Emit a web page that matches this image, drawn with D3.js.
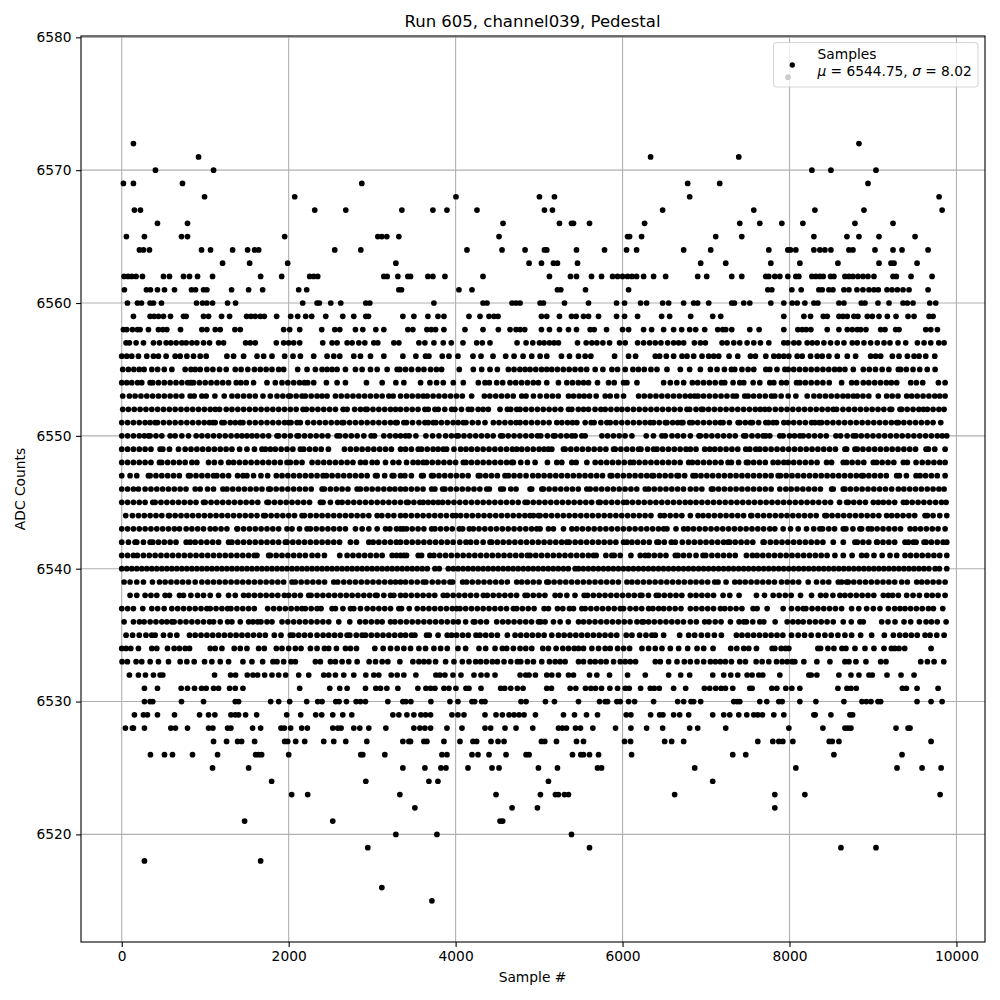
<!DOCTYPE html>
<html><head><meta charset="utf-8"><script src="https://cdnjs.cloudflare.com/ajax/libs/d3/7.8.5/d3.min.js"></script>
<style>html,body{margin:0;background:#fff}svg{display:block}text{font-family:"DejaVu Sans";fill:#000}</style></head><body><div id="c"></div>
<script>
const r6577=[7982];
const r6572=[140,8832];
const r6571=[920,6336,7392];
const r6570=[404,1100,8268,8496,9036];
const r6569=[20,140,728,2876,6780,7164,8940];
const r6568=[992,2072,4004,5004,5184,6804,9792];
const r6567=[152,224,2312,2684,3356,3728,3896,4256,5064,5160,6480,7572,8304,8892,9828];
const r6566=[428,788,4568,5244,5388,5412,5604,6264,7404,7644,7908,8160,8784,9240];
const r6565=[56,272,716,788,1952,3068,3116,3176,3320,4520,6060,6084,6228,7116,7428,8292,8688,8832,9072,9504];
const r6564=[212,260,332,956,1064,1328,1508,1592,1640,2552,2864,4136,4556,4832,5064,5092,5448,5784,6048,6168,6732,7056,7752,7980,8012,8076,8292,8364,8424,8496,8712,8760,9024,9240,9348,9660];
const r6563=[1208,1532,1988,3284,4880,5028,5172,5220,5460,6936,7236,7776,8124,8580,9072,9216,9252,9528];
const r6562=[28,76,120,172,248,500,572,740,812,908,1088,1664,1916,2252,2300,2348,3140,3180,3308,3428,3460,3668,3728,3872,4328,5124,5376,5448,5628,5748,5880,5940,6000,6060,6112,6168,6252,6372,6516,6900,7008,7308,7428,7716,7752,7824,7884,7980,8076,8112,8268,8316,8364,8404,8492,8532,8664,8712,8760,8820,8880,8940,9012,9240,9280,9456,9708];
const r6561=[32,296,344,428,512,632,836,884,980,1020,1316,1520,1688,2120,2216,3320,3352,4040,4196,5220,5260,5556,6072,7740,7788,8028,8140,8352,8392,8472,8520,8652,8712,8808,8880,8952,9012,9064,9168,9228,9292,9360,9432,9660];
const r6560=[68,188,236,340,380,476,896,968,1020,1088,1268,1364,2168,2340,2368,2504,2624,2924,2972,3740,4328,4376,4676,4724,4772,5012,5052,5304,5592,5928,6024,6216,6288,6480,6552,6732,6852,6900,7032,7308,7340,7452,7524,7776,7932,8032,8092,8184,8292,8340,8592,8652,8860,8904,9060,9192,9360,9412,9480,9680,9752];
const r6559=[140,340,388,440,500,584,740,772,980,1040,1196,1292,1496,1548,1600,1660,1708,1856,2024,2108,2204,2276,2444,2648,2780,2924,2956,3368,3500,3668,3788,3860,4160,4292,4400,4460,4508,5028,5092,5244,5388,5444,5532,5592,5712,5928,6024,6180,6468,6564,6816,7080,7176,7932,8172,8252,8404,8452,8592,8640,8692,8772,8820,8932,8992,9072,9172,9276,9420,9492,9672,9720];
const r6558=[20,60,128,188,220,320,440,492,540,704,960,1020,1120,1180,1356,1420,1940,2012,2132,2396,2552,2612,2800,2888,3044,3140,3428,3488,3656,3708,3760,3860,4112,4328,4512,4652,4724,4772,4828,5028,5124,5244,5352,5448,5612,5660,5808,6000,6072,6252,6348,6492,6612,6708,6804,6876,6984,7140,7200,7236,7308,7524,7636,7932,8100,8152,8200,8256,8452,8592,8692,8752,8812,8852,8916,9092,9144,9272,9312,9632,9692,9772];
const r6557=[52,92,172,260,380,452,532,588,652,720,772,840,900,980,1052,1160,1220,1484,1540,1600,1852,1940,2000,2060,2132,2408,2520,2580,2700,2760,2840,2912,3020,3068,3260,3320,3560,3632,3740,3852,3948,4088,4252,4320,4412,4736,4844,4924,5004,5060,5124,5180,5232,5460,5564,5632,5692,5764,5844,5964,6032,6180,6252,6324,6392,6460,6540,6612,6672,6732,6860,6932,6992,7192,7252,7332,7404,7492,7572,7652,7752,7932,7980,8052,8112,8212,8272,8332,8412,8492,8572,8652,8752,8812,8892,8972,9052,9132,9204,9300,9392,9532,9612,9692,9788,9852];
const r6556=[0,60,120,200,300,380,440,532,640,700,780,860,940,1012,1260,1340,1460,1620,1700,1800,1952,2052,2140,2300,2460,2540,2612,2780,2860,2980,3140,3368,3524,3640,3680,3840,3920,4028,4208,4304,4448,4600,4700,4808,4912,5012,5092,5268,5364,5472,5552,5620,5904,6072,6156,6392,6444,6524,6612,6712,6772,6852,6952,7032,7092,7152,7276,7380,7532,7592,7716,7812,7872,7932,7992,8092,8152,8252,8332,8392,8472,8572,8692,8792,8972,9032,9092,9232,9312,9412,9492,9552,9632,9740];
const r6555=[12,80,145,210,268,360,430,510,600,760,830,880,940,1020,1092,1172,1252,1360,1430,1510,1590,1660,1730,1800,1880,1940,2108,2220,2320,2400,2460,2520,2580,2680,2800,2880,2980,3060,3180,3300,3332,3400,3472,3552,3620,3700,3770,3832,4044,4212,4312,4412,4500,4632,4700,4770,4832,4892,4960,5030,5092,5152,5220,5290,5360,5430,5500,5570,5672,5764,5872,5940,6032,6124,6190,6260,6340,6412,6532,6692,6804,6932,7052,7132,7220,7304,7344,7430,7504,7572,7716,7764,7850,7944,7984,8050,8120,8190,8260,8330,8400,8470,8540,8600,8664,8764,8884,8956,9030,9110,9190,9304,9332,9400,9480,9560,9650,9744];
const r6554=[0,60,120,190,240,340,372,440,510,580,650,720,790,828,860,930,1000,1070,1140,1210,1280,1372,1428,1492,1580,1740,1840,1920,1990,2060,2130,2188,2228,2300,2452,2580,2680,2932,3120,3284,3380,3580,3692,3772,3852,3972,4092,4272,4352,4404,4492,4564,4652,4720,4790,4860,4930,4992,5092,5232,5332,5400,5470,5532,5592,5700,5832,5900,6012,6052,6172,6492,6572,6650,6732,6836,6900,6970,7040,7110,7184,7224,7324,7404,7452,7564,7644,7764,7812,7904,7964,8084,8124,8190,8260,8330,8400,8476,8624,8744,8804,8884,8950,9020,9090,9160,9220,9284,9452,9520,9596,9784,9864];
const r6553=[12,92,160,230,300,370,440,510,580,650,720,820,868,960,1012,1116,1228,1320,1388,1460,1530,1600,1692,1780,1860,1930,2000,2020,2090,2160,2200,2270,2340,2400,2460,2560,2630,2700,2770,2840,2910,2980,3050,3120,3200,3252,3340,3412,3480,3550,3612,3660,3730,3800,3870,3940,4010,4080,4192,4344,4410,4480,4550,4620,4690,4792,4844,4932,5012,5090,5160,5230,5352,5412,5480,5540,5604,5684,5792,5852,5930,6012,6192,6260,6330,6400,6470,6540,6610,6680,6750,6812,6864,6904,6970,7040,7110,7180,7250,7324,7364,7464,7504,7570,7640,7710,7784,7824,7900,7984,8076,8212,8292,8360,8430,8500,8570,8640,8700,8764,8812,8880,8950,9064,9164,9230,9300,9404,9464,9530,9600,9670,9740,9800,9864];
const r6552=[12,80,150,220,290,360,430,500,570,640,710,780,850,920,990,1060,1120,1172,1252,1320,1390,1460,1530,1600,1670,1740,1810,1880,1950,2020,2090,2172,2212,2280,2350,2420,2490,2560,2652,2700,2790,2860,2920,2940,3010,3080,3150,3220,3280,3340,3410,3480,3550,3632,3672,3752,3792,3870,3952,3992,4070,4152,4192,4270,4330,4392,4532,4620,4660,4732,4772,4840,4910,4980,5050,5120,5190,5260,5352,5392,5470,5532,5592,5670,5740,5792,5860,5932,5992,6060,6130,6200,6270,6340,6410,6480,6550,6620,6690,6772,6804,6880,6944,6964,7030,7100,7170,7240,7310,7380,7450,7520,7590,7650,7704,7756,7830,7900,7970,8040,8110,8180,8250,8320,8390,8460,8524,8564,8640,8710,8780,8850,8920,8990,9060,9130,9204,9224,9324,9344,9410,9480,9550,9604,9652,9720,9790,9852];
const r6551=[0,70,140,210,280,340,400,428,500,570,640,710,780,850,920,988,1050,1092,1120,1200,1228,1300,1360,1420,1452,1530,1600,1670,1740,1810,1880,1950,2000,2028,2100,2140,2228,2300,2370,2440,2510,2580,2640,2660,2730,2800,2870,2940,3010,3080,3150,3220,3280,3300,3380,3412,3484,3560,3632,3672,3732,3764,3830,3900,3970,4030,4092,4124,4200,4270,4352,4452,4520,4590,4660,4724,4772,4840,4910,4980,5050,5120,5212,5272,5340,5400,5452,5552,5624,5660,5740,5812,5852,5920,5990,6060,6130,6200,6270,6332,6372,6440,6512,6532,6600,6660,6704,6724,6804,6836,6900,6970,7040,7110,7172,7204,7280,7384,7404,7470,7532,7556,7630,7716,7748,7804,7844,7932,7984,8050,8120,8190,8264,8304,8356,8384,8450,8520,8590,8660,8730,8800,8870,8940,9010,9080,9150,9220,9284,9304,9370,9440,9510,9580,9650,9720,9812];
const r6550=[0,70,140,210,270,320,340,410,480,580,640,720,800,892,960,1030,1100,1170,1240,1310,1380,1440,1500,1560,1620,1690,1760,1860,1880,1950,2020,2100,2120,2190,2260,2330,2400,2470,2580,2612,2680,2750,2820,2900,2988,3028,3140,3212,3280,3340,3400,3444,3524,3644,3724,3800,3880,3950,4012,4032,4100,4170,4240,4310,4380,4450,4540,4564,4630,4700,4770,4840,4910,4980,5020,5100,5172,5192,5260,5330,5392,5432,5512,5552,5752,5820,5890,5960,6030,6112,6284,6370,6472,6512,6592,6660,6730,6812,6916,6932,7000,7070,7140,7210,7280,7350,7452,7476,7550,7620,7684,7716,7764,7884,7924,8000,8060,8124,8164,8230,8300,8370,8440,8556,8612,8690,8764,8796,8860,8930,9000,9070,9140,9210,9280,9350,9420,9490,9560,9630,9700,9770,9830,9884];
const r6549=[0,70,140,210,280,350,460,492,572,680,760,830,900,970,1040,1110,1180,1250,1320,1412,1500,1590,1680,1720,1780,1840,1910,1980,2050,2140,2180,2250,2320,2390,2476,2668,2740,2810,2880,2950,3020,3090,3160,3230,3340,3400,3470,3552,3592,3660,3730,3790,3852,3892,3980,4060,4124,4190,4260,4330,4400,4470,4540,4610,4680,4732,4792,4860,4930,5000,5060,5112,5152,5292,5312,5380,5450,5520,5590,5660,5730,5800,5892,5912,5980,6050,6120,6192,6220,6300,6372,6412,6480,6550,6620,6690,6760,6812,6880,6984,7044,7104,7170,7240,7310,7380,7476,7524,7596,7644,7710,7780,7850,7920,7990,8060,8130,8200,8270,8340,8410,8480,8550,8664,8684,8784,8812,8880,8950,9020,9090,9160,9230,9300,9370,9440,9510,9636,9664,9740,9864];
const r6548=[0,70,140,210,280,350,452,480,550,620,690,760,840,900,1040,1110,1188,1280,1340,1410,1480,1550,1620,1690,1760,1830,1900,1980,2020,2090,2160,2280,2350,2420,2490,2560,2630,2700,2770,2860,2920,3000,3060,3160,3250,3320,3412,3490,3550,3612,3652,3720,3790,3860,3930,4000,4092,4124,4190,4260,4330,4400,4470,4540,4610,4672,4692,4780,4860,4952,5100,5212,5272,5392,5444,5572,5672,5740,5810,5880,5950,6020,6092,6132,6200,6270,6340,6410,6480,6550,6620,6690,6792,6836,6900,6970,7040,7110,7180,7264,7304,7390,7484,7504,7570,7640,7710,7804,7864,7932,7984,8050,8120,8190,8260,8330,8444,8504,8644,8684,8750,8820,8890,9004,9044,9110,9180,9250,9364,9412,9516,9590,9660,9730,9800,9864];
const r6547=[0,100,180,320,340,410,480,550,620,690,800,820,890,960,1030,1100,1140,1210,1280,1388,1452,1500,1580,1668,1748,1852,1920,1990,2060,2130,2200,2270,2340,2412,2452,2520,2590,2660,2730,2800,2870,2940,3040,3060,3150,3240,3260,3340,3392,3470,3592,3612,3712,3732,3800,3870,3940,4010,4080,4150,4272,4292,4360,4430,4500,4592,4632,4700,4770,4844,4924,4990,5060,5130,5200,5270,5340,5410,5480,5550,5620,5690,5760,5852,5872,5940,6010,6080,6150,6220,6290,6352,6372,6440,6510,6580,6652,6672,6744,6844,6876,6940,7010,7080,7150,7220,7290,7360,7430,7500,7570,7640,7710,7780,7864,7892,7960,8030,8100,8170,8240,8310,8380,8450,8520,8590,8660,8730,8800,8864,8884,8950,9020,9090,9160,9284,9316,9400,9516,9564,9630,9700,9770,9864];
const r6546=[0,70,140,200,280,350,420,490,560,630,700,770,880,940,1028,1100,1212,1260,1330,1400,1470,1540,1610,1680,1760,1780,1850,1920,1990,2060,2130,2200,2270,2400,2428,2500,2570,2640,2710,2820,2860,2930,3000,3070,3140,3210,3272,3340,3400,3470,3540,3610,3712,3752,3844,3872,3940,4010,4080,4150,4220,4290,4372,4404,4540,4572,4660,4724,4892,4912,5032,5052,5120,5190,5260,5330,5400,5470,5572,5612,5680,5750,5820,5890,5960,6030,6100,6170,6272,6312,6380,6450,6520,6590,6660,6730,6812,6880,6950,7064,7084,7150,7220,7290,7360,7430,7500,7570,7640,7710,7780,7884,7956,8020,8090,8160,8230,8300,8370,8504,8524,8644,8664,8730,8800,8870,8940,9010,9080,9150,9224,9304,9370,9440,9510,9580,9650,9720,9790,9852];
const r6545=[0,70,140,210,280,372,400,470,540,610,680,750,820,890,980,1000,1070,1140,1210,1280,1350,1420,1490,1560,1630,1740,1760,1830,1900,1970,2040,2110,2180,2250,2380,2412,2500,2588,2640,2710,2780,2850,2920,2990,3060,3130,3200,3270,3340,3412,3432,3500,3572,3612,3672,3732,3792,3844,3910,3980,4050,4120,4190,4260,4330,4400,4470,4540,4610,4680,4750,4832,4860,4930,5000,5070,5140,5210,5280,5350,5420,5490,5560,5630,5712,5732,5800,5870,5940,6012,6052,6120,6190,6260,6330,6400,6470,6540,6610,6680,6750,6812,6880,6950,7020,7090,7160,7230,7300,7370,7440,7510,7580,7650,7720,7790,7860,7930,8000,8070,8140,8210,8280,8350,8424,8492,8600,8684,8704,8770,8840,8910,9004,9064,9124,9190,9260,9364,9404,9470,9540,9610,9680,9750,9820,9876];
const r6544=[48,128,200,270,340,410,480,560,572,640,710,780,850,920,990,1060,1130,1200,1270,1340,1410,1480,1550,1620,1700,1720,1790,1860,1930,2000,2070,2160,2188,2260,2330,2400,2470,2540,2610,2680,2750,2820,2890,2960,3060,3116,3190,3260,3340,3400,3470,3540,3610,3680,3750,3820,3890,3964,4004,4060,4130,4200,4270,4340,4410,4480,4550,4620,4690,4760,4830,4892,4932,4992,5012,5080,5150,5220,5290,5360,5430,5500,5570,5640,5710,5780,5850,5920,5990,6060,6130,6200,6270,6340,6452,6500,6570,6640,6710,6812,6904,6964,7030,7100,7170,7240,7310,7380,7450,7536,7548,7620,7690,7760,7830,7900,7970,8040,8110,8180,8250,8320,8424,8444,8510,8580,8650,8720,8790,8860,8930,9000,9070,9164,9224,9290,9360,9430,9500,9624,9652,9720,9800,9884];
const r6543=[0,70,140,210,280,350,420,490,560,630,692,772,840,910,980,1060,1120,1190,1260,1380,1388,1460,1530,1600,1670,1740,1810,1880,1980,2040,2130,2220,2260,2330,2400,2470,2540,2610,2680,2800,2880,2960,3060,3160,3212,3292,3340,3372,3412,3480,3550,3620,3712,3752,3820,3890,3960,4044,4084,4164,4212,4280,4350,4420,4490,4560,4630,4700,4770,4840,4910,4972,5012,5112,5172,5292,5392,5452,5520,5590,5660,5730,5800,5870,5940,6010,6080,6150,6220,6290,6360,6430,6492,6532,6640,6732,6784,6850,6920,6990,7060,7130,7200,7270,7340,7410,7480,7550,7620,7690,7764,7824,7924,8012,8104,8204,8290,8364,8396,8470,8540,8644,8676,8760,8844,8864,8944,8984,9050,9120,9190,9260,9330,9444,9504,9570,9640,9710,9780,9864];
const r6542=[0,80,160,180,260,340,372,440,510,580,650,772,820,880,950,1020,1090,1160,1280,1320,1390,1460,1530,1600,1670,1740,1810,1880,1960,1980,2050,2120,2190,2260,2330,2400,2470,2540,2610,2740,2812,2960,3012,3080,3150,3220,3290,3340,3410,3480,3550,3620,3690,3760,3830,3900,3970,4050,4124,4180,4250,4330,4412,4432,4500,4570,4640,4710,4780,4850,4920,4990,5060,5130,5200,5270,5332,5360,5432,5500,5570,5640,5710,5780,5850,5920,6012,6052,6112,6180,6250,6320,6412,6432,6500,6584,6632,6716,6790,6860,6930,7000,7070,7140,7210,7264,7284,7350,7420,7490,7560,7684,7696,7770,7840,7910,7980,8050,8120,8190,8260,8330,8400,8524,8644,8784,8812,8880,8950,9044,9052,9120,9190,9260,9384,9424,9484,9516,9612,9636,9700,9770,9840,9884];
const r6541=[0,70,140,188,260,330,400,470,540,610,680,750,820,890,960,1030,1100,1170,1240,1310,1380,1450,1520,1588,1620,1760,1780,1850,1920,1990,2060,2130,2200,2280,2348,2428,2612,2700,2770,2840,2910,2980,3050,3120,3240,3292,3340,3380,3412,3552,3592,3692,3740,3810,3880,3950,4020,4090,4160,4230,4300,4370,4440,4510,4580,4650,4720,4790,4860,4892,4960,5030,5100,5170,5240,5310,5380,5450,5520,5590,5652,5684,5800,5872,5900,5972,6100,6212,6272,6312,6380,6450,6520,6632,6664,6730,6800,6880,6964,6996,7070,7140,7210,7280,7350,7484,7556,7612,7680,7750,7820,7890,7960,8030,8100,8170,8240,8310,8380,8450,8544,8644,8750,8864,8924,9012,9110,9204,9284,9384,9450,9520,9590,9660,9730,9800,9884];
const r6540=[0,60,120,180,240,300,360,420,480,540,600,660,720,780,840,900,960,1020,1080,1140,1200,1260,1320,1380,1440,1500,1560,1620,1680,1740,1800,1860,1920,1980,2040,2100,2160,2220,2280,2340,2400,2460,2520,2580,2640,2700,2760,2820,2880,2940,3000,3060,3120,3180,3240,3300,3360,3420,3480,3540,3600,3660,3752,3804,3912,3972,4030,4090,4150,4210,4270,4330,4390,4450,4510,4570,4630,4690,4750,4810,4870,4930,4990,5050,5110,5170,5230,5290,5350,5432,5472,5530,5590,5650,5710,5770,5830,5890,5950,6010,6070,6130,6190,6250,6310,6370,6430,6490,6550,6610,6670,6730,6790,6850,6910,6970,7030,7090,7150,7210,7270,7330,7390,7450,7510,7570,7630,7690,7750,7810,7870,7930,7990,8050,8110,8170,8230,8290,8350,8410,8470,8530,8590,8650,8710,8770,8830,8890,8950,9010,9070,9130,9190,9250,9310,9370,9430,9490,9550,9610,9670,9744,9796,9884];
const r6539=[28,100,180,260,368,452,520,590,660,730,800,880,960,1030,1100,1170,1240,1310,1380,1450,1520,1590,1660,1730,1800,1870,1940,2040,2080,2150,2220,2290,2360,2430,2540,2588,2660,2730,2800,2870,2940,3010,3080,3150,3220,3280,3340,3400,3470,3540,3612,3644,3720,3790,3860,3932,3964,4084,4132,4200,4270,4340,4410,4480,4550,4620,4732,4792,4860,4930,5000,5092,5112,5180,5250,5320,5390,5460,5530,5600,5670,5740,5810,5880,5950,6052,6112,6180,6250,6320,6390,6460,6530,6600,6670,6740,6812,6880,6950,7020,7104,7144,7240,7344,7404,7470,7540,7610,7680,7750,7820,7904,7972,8040,8110,8224,8324,8400,8470,8584,8624,8684,8704,8770,8840,8910,8980,9050,9120,9190,9260,9344,9412,9524,9584,9650,9720,9790,9864];
const r6538=[100,180,280,350,420,520,572,692,740,828,908,980,1060,1160,1280,1360,1460,1520,1590,1660,1730,1800,1870,1948,2000,2070,2140,2240,2268,2340,2410,2480,2550,2620,2690,2760,2830,2900,2970,3040,3060,3140,3220,3260,3340,3400,3470,3540,3610,3680,3750,3852,3900,3970,4040,4110,4180,4250,4332,4380,4450,4520,4590,4660,4730,4832,4860,4930,5000,5070,5192,5252,5332,5430,5540,5580,5650,5720,5790,5860,5930,6000,6070,6140,6212,6232,6310,6404,6432,6500,6570,6640,6710,6812,6880,6950,7020,7090,7204,7284,7396,7604,7700,7804,7876,7950,8020,8132,8264,8372,8436,8520,8604,8664,8730,8800,8870,8940,9010,9124,9184,9236,9304,9404,9480,9556,9644,9710,9780,9864];
const r6537=[0,70,140,252,360,430,508,600,670,740,810,880,950,1020,1060,1130,1200,1268,1308,1380,1450,1520,1588,1748,1820,1890,1960,2030,2100,2160,2200,2270,2340,2388,2520,2560,2650,2740,2780,2860,2940,3010,3080,3150,3220,3320,3352,3444,3540,3610,3680,3750,3820,3890,3960,4012,4052,4120,4190,4260,4330,4400,4470,4540,4610,4692,4732,4800,4870,4940,5060,5112,5220,5284,5364,5412,5512,5552,5620,5690,5760,5830,5900,5972,6012,6090,6160,6230,6312,6364,6432,6492,6560,6630,6700,6812,6880,6950,7020,7090,7172,7224,7290,7360,7430,7564,7612,7732,7924,8024,8100,8164,8196,8270,8340,8410,8480,8550,8624,8744,8830,8924,9004,9084,9184,9260,9324,9384,9450,9520,9590,9664,9724,9836];
const r6536=[28,140,212,268,340,410,480,540,600,628,700,770,840,910,980,1052,1100,1180,1268,1320,1420,1520,1572,1628,1668,1740,1800,1920,1990,2060,2130,2200,2270,2340,2410,2480,2600,2732,2852,2920,2990,3060,3120,3220,3272,3340,3410,3480,3550,3620,3690,3760,3830,3900,3972,4032,4120,4212,4232,4300,4370,4492,4564,4630,4700,4770,4840,4910,4992,5020,5072,5172,5252,5350,5472,5532,5600,5670,5740,5810,5880,5950,6020,6090,6172,6232,6252,6312,6380,6450,6520,6590,6660,6730,6812,6884,6984,7036,7110,7180,7292,7396,7452,7484,7560,7644,7692,7828,7972,8040,8104,8164,8240,8310,8380,8450,8524,8644,8740,8844,8884,9104,9180,9264,9372,9452,9556,9636,9700,9770,9876];
const r6535=[52,130,210,290,360,400,500,580,660,812,880,950,1020,1090,1160,1230,1300,1370,1440,1510,1580,1650,1720,1828,1908,2020,2052,2120,2190,2260,2340,2412,2480,2550,2620,2700,2732,2810,2880,2920,2990,3060,3130,3200,3270,3340,3400,3472,3512,3652,3684,3790,3900,3952,4012,4084,4152,4244,4292,4360,4430,4500,4620,4712,4780,4850,4920,4990,5060,5152,5232,5300,5370,5440,5510,5580,5650,5720,5790,5860,5930,6044,6112,6204,6280,6352,6392,6492,6684,6792,6864,6944,7020,7100,7184,7364,7430,7500,7570,7640,7710,7780,7850,7920,8024,8104,8180,8260,8344,8424,8500,8580,8664,8744,8852,8984,9136,9244,9320,9390,9460,9530,9624,9684,9764,9852];
const r6534=[0,52,108,200,360,420,548,628,692,760,812,1060,1120,1200,1348,1420,1500,1640,1708,1852,1920,2000,2080,2148,2260,2340,2428,2480,2572,2680,2740,2812,3032,3132,3220,3300,3380,3460,3560,3640,3740,3820,3900,4028,4120,4280,4360,4472,4560,4612,4692,4772,4840,4912,5044,5112,5204,5284,5352,5420,5472,5532,5632,5712,5792,5852,5940,6012,6084,6232,6312,6392,6472,6572,6672,6780,6892,6972,7084,7296,7368,7452,7512,7604,7792,7824,7900,7952,7992,8340,8372,8460,8532,8628,8676,8784,8904,9012,9132,9220,9260,9312,9380,9696];
const r6533=[4,68,172,240,340,440,560,700,780,868,992,1080,1180,1280,1452,1560,1688,1812,1860,1940,2028,2080,2320,2380,2500,2560,2640,2720,2820,2964,3040,3120,3188,3332,3488,3560,3620,3680,3760,3880,3980,4080,4160,4240,4300,4368,4440,4500,4580,4660,4740,4780,4860,4932,5032,5124,5192,5252,5312,5472,5532,5612,5672,5740,5804,5892,5972,6032,6092,6156,6392,6452,6552,6652,6740,6812,6892,6972,7052,7112,7172,7232,7304,7404,7472,7600,7672,7752,7844,7912,7972,8032,8064,8172,8328,8484,8664,8712,8796,8916,9092,9156,9572,9652,9732,9848];
const r6532=[92,200,284,380,460,492,1112,1304,1364,1504,1572,1628,1712,1800,1880,1964,2120,2240,2420,2480,2560,2660,2780,2924,3020,3080,3228,3300,3380,3524,3764,3812,3872,3968,4064,4220,4304,4376,4472,4772,4840,4880,4956,5092,5152,5232,5352,5412,5604,5692,5844,6060,6272,6552,6696,6804,7080,7212,7296,7380,7492,7552,7632,7680,7884,8232,8260,8328,8592,8736,8832,8952,8992,9168,9336,9492];
const r6531=[272,428,712,788,872,956,1012,1100,1160,1292,1360,1452,2132,2492,2612,2700,2920,3044,3100,3176,3308,3548,3644,3700,3752,3860,3920,4004,4124,4160,4304,4540,4588,4660,4740,4808,5092,5148,5372,5440,5556,5620,5676,5748,5848,5940,6032,6080,6216,6332,6380,6440,6612,6756,6980,7044,7116,7180,7232,7320,7524,7552,7788,7848,7956,8028,8124,8580,8688,8736,8800,9352,9400,9528,9780];
const r6530=[272,340,372,716,980,1360,1400,1784,1880,2012,2216,2348,2400,2564,2604,2692,2808,2860,2920,3188,3368,3404,3464,3704,3932,4028,4196,4228,4312,4352,4784,4844,5076,5184,5472,5724,5792,5820,5932,5972,6072,6144,6372,6660,6732,6820,6852,6936,7332,7372,7404,7644,7728,7872,7912,8124,8316,8652,8868,8920,8976,9060,9092,9528,9696,9828];
const r6529=[152,260,308,428,632,932,1040,1116,1308,1360,1400,1484,1616,1976,2144,2324,2396,2528,2648,2756,3248,3320,3416,3500,3584,3640,3700,3956,4028,4100,4352,4484,4560,4640,4700,4760,4820,4956,5292,5424,5568,5700,6044,6100,6336,6444,6484,6612,6684,6792,7080,7212,7284,7392,7488,7572,7620,7676,7812,7932,8292,8308,8496,8724,8756];
const r6528=[44,128,140,272,588,644,788,1040,1092,1268,1308,1568,1664,1908,1948,2024,2156,2224,2528,2588,2628,2780,2852,2960,3164,3500,3572,3632,3700,3896,4076,4352,4420,4592,4724,4924,5232,5280,5328,5436,5496,5644,5916,6100,6288,6480,6804,6900,7236,7992,8400,8664,8700,8736,9276,9420,9444];
const r6527=[1100,1256,1388,1436,1592,1952,1988,2084,2192,2420,2540,2684,2936,3368,3440,3460,3620,3656,3860,4052,4208,4252,4424,4508,4580,5028,5068,5208,5448,5532,6024,6096,6504,6588,6732,7620,7800,7872,7920,8040,8476,8512,8592,9696];
const r6526=[344,512,608,848,1148,1604,1640,1676,2000,2864,2888,3152,3836,3896,4196,4268,4400,4604,4844,4880,5400,5500,5532,5604,5712,6108,7320,7476,8532,9348];
const r6525=[1088,1520,3368,3632,3824,3884,4148,4436,4520,4992,5220,5700,5748,6864,8076,9288,9588,9816];
const r6524=[1796,2924,3680,3788,5112,7080];
const r6523=[2036,2228,3332,4484,5016,5196,5232,5304,5352,6624,7824,8184,9804];
const r6522=[3512,4676,4980,7824];
const r6521=[1472,2528,4532,4564];
const r6520=[3284,3776,5388];
const r6519=[2948,5604,8616,9036];
const r6518=[272,1664];
const r6516=[3116];
const r6515=[3716];
const adcRows=[[6577,r6577],[6572,r6572],[6571,r6571],[6570,r6570],[6569,r6569],[6568,r6568],[6567,r6567],[6566,r6566],[6565,r6565],[6564,r6564],[6563,r6563],[6562,r6562],[6561,r6561],[6560,r6560],[6559,r6559],[6558,r6558],[6557,r6557],[6556,r6556],[6555,r6555],[6554,r6554],[6553,r6553],[6552,r6552],[6551,r6551],[6550,r6550],[6549,r6549],[6548,r6548],[6547,r6547],[6546,r6546],[6545,r6545],[6544,r6544],[6543,r6543],[6542,r6542],[6541,r6541],[6540,r6540],[6539,r6539],[6538,r6538],[6537,r6537],[6536,r6536],[6535,r6535],[6534,r6534],[6533,r6533],[6532,r6532],[6531,r6531],[6530,r6530],[6529,r6529],[6528,r6528],[6527,r6527],[6526,r6526],[6525,r6525],[6524,r6524],[6523,r6523],[6522,r6522],[6521,r6521],[6520,r6520],[6519,r6519],[6518,r6518],[6516,r6516],[6515,r6515]];
const xTicks=[0,2000,4000,6000,8000,10000];
const yTicks=[6520,6530,6540,6550,6560,6570,6580];
const titleText="Run 605, channel039, Pedestal";
const xLabel="Sample #", yLabel="ADC Counts", legendName="Samples";

const pts=adcRows.flatMap(([v,s])=>s.map(x=>({x,v})));
const W=1000,H=1000,L=81,R=985,T=36,B=942;
const x=d3.scaleLinear().domain([-488,10342]).range([L,R]);
const y=d3.scaleLinear().domain([6511.9,6580.1]).range([B,T]);
const svg=d3.select("#c").append("svg").attr("width",W).attr("height",H);
const grid=svg.append("g").attr("stroke","#b0b0b0").attr("stroke-width",1.1);
grid.selectAll("line.gx").data(xTicks).join("line").attr("x1",d=>x(d)).attr("x2",d=>x(d)).attr("y1",T).attr("y2",B);
grid.selectAll("line.gy").data(yTicks).join("line").attr("x1",L).attr("x2",R).attr("y1",d=>y(d)).attr("y2",d=>y(d));
svg.append("g").selectAll("circle").data(pts).join("circle").attr("cx",d=>x(d.x)).attr("cy",d=>y(d.v)).attr("r",2.85).attr("fill","#000");
svg.append("rect").attr("x",L).attr("y",T).attr("width",R-L).attr("height",B-T).attr("fill","none").attr("stroke","#000").attr("stroke-width",1.1);
const ax=svg.append("g").attr("transform",`translate(0,${B})`).call(d3.axisBottom(x).tickValues(xTicks).tickFormat(d3.format("d")).tickSize(4.9).tickPadding(4.5));
const ay=svg.append("g").attr("transform",`translate(${L},0)`).call(d3.axisLeft(y).tickValues(yTicks).tickFormat(d3.format("d")).tickSize(4.9).tickPadding(4.5));
[ax,ay].forEach(a=>{a.select(".domain").remove();a.selectAll("line").attr("stroke","#000").attr("stroke-width",1.1);a.selectAll("text").attr("font-size",13.8).attr("font-family","DejaVu Sans").attr("fill","#000");});
svg.append("text").attr("x",532.5).attr("y",27).attr("text-anchor","middle").attr("font-size",16.5).text(titleText);
svg.append("text").attr("x",532.5).attr("y",982).attr("text-anchor","middle").attr("font-size",13.8).text(xLabel);
svg.append("text").attr("transform","translate(25,489) rotate(-90)").attr("text-anchor","middle").attr("font-size",13.8).text(yLabel);
const lg=svg.append("g");
lg.append("rect").attr("x",773.5).attr("y",42.5).attr("width",204.5).attr("height",44.5).attr("rx",3.5).attr("fill","#fff").attr("fill-opacity",.8).attr("stroke","#ccc").attr("stroke-opacity",.8).attr("stroke-width",1.1);
lg.append("circle").attr("cx",792.3).attr("cy",65).attr("r",2.65).attr("fill","#000");
lg.append("text").attr("x",817.5).attr("y",59).attr("font-size",13.8).text(legendName);
const t=lg.append("text").attr("x",817.5).attr("y",76).attr("font-size",13.75);
t.append("tspan").attr("font-style","italic").text("μ");t.append("tspan").text(" = 6544.75, ");t.append("tspan").attr("font-style","italic").text("σ");t.append("tspan").text(" = 8.02");
</script></body></html>
